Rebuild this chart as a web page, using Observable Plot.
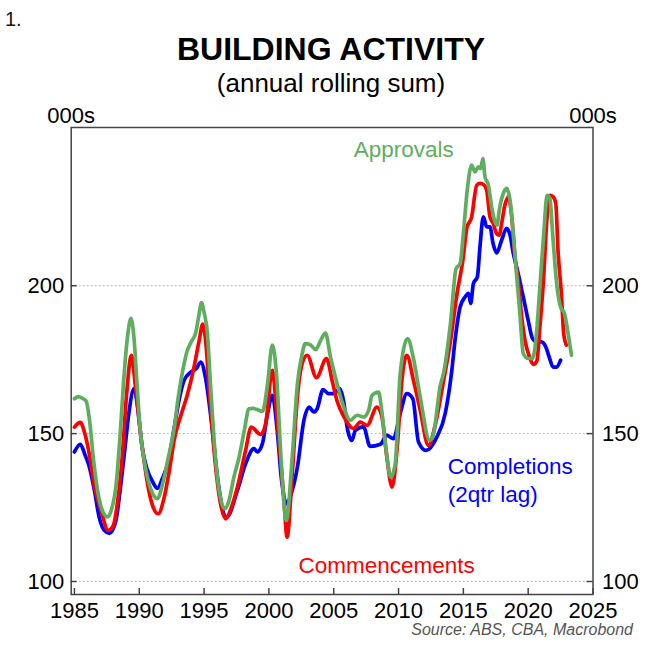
<!DOCTYPE html>
<html>
<head>
<meta charset="utf-8">
<script src="https://cdn.jsdelivr.net/npm/d3@7"></script>
<script src="https://cdn.jsdelivr.net/npm/@observablehq/plot@0.6"></script>
<style>
  html, body { margin: 0; padding: 0; background: #fff; }
  #wrap { position: relative; width: 649px; height: 652px; font-family: "Liberation Sans", Arial, sans-serif; overflow: hidden; }
  #wrap svg { position: absolute; left: 0; top: 0; }
  .t { position: absolute; line-height: 1; white-space: nowrap; }
</style>
</head>
<body>
<div id="wrap">
  <div class="t" style="left:5px; top:9px; font-size:20px; color:#2a0a0a;">1.</div>
  <div class="t" style="left:0; width:662px; text-align:center; top:33px; font-size:32px; font-weight:bold; color:#000;">BUILDING ACTIVITY</div>
  <div class="t" style="left:0; width:662px; text-align:center; top:70px; font-size:26px; color:#000;">(annual rolling sum)</div>
  <div class="t" style="right:16px; top:622px; font-size:16px; font-style:italic; color:#555;">Source: ABS, CBA, Macrobond</div>
</div>
<script>
// ---- Data ----
const approvalYears = [1985.0,1985.3,1985.6,1985.9,1986.15,1986.5,1986.9,1987.2,1987.57,1987.9,1988.2,1988.5,1988.8,1989.1,1989.36,1989.6,1989.85,1990.1,1990.5,1991.0,1991.4,1991.8,1992.2,1992.7,1993.0,1993.3,1993.7,1994.0,1994.35,1994.6,1994.8,1995.0,1995.26,1995.5,1995.77,1996.15,1996.6,1996.9,1997.3,1997.7,1998.1,1998.46,1998.8,1999.23,1999.5,1999.9,2000.26,2000.6,2000.9,2001.34,2001.8,2002.2,2002.57,2002.8,2003.2,2003.6,2004.0,2004.36,2004.75,2005.13,2005.7,2006.28,2006.8,2007.3,2007.7,2007.95,2008.46,2008.7,2009.05,2009.4,2009.75,2010.13,2010.7,2011.15,2011.67,2012.4,2012.7,2013.2,2013.5,2014.0,2014.44,2014.75,2015.0,2015.3,2015.64,2015.9,2016.15,2016.34,2016.5,2016.67,2016.93,2017.18,2017.44,2017.6,2017.77,2018.08,2018.34,2018.6,2018.85,2019.1,2019.36,2019.62,2020.0,2020.34,2020.64,2020.9,2021.2,2021.46,2021.67,2021.92,2022.23,2022.5,2022.8,2023.08,2023.34];
const approvalValues = [161.8,162.5,162,161,155,140,128,123.5,121.8,125,132,148,168,183,189,182,165,150,138,130,128,133,141,152,162,170,178,181,184,190,194.3,191,183.8,166,148,131,124.6,127,135.3,142,151,158.4,158.5,157.9,157.5,166.9,179.9,169.1,144.3,120.6,142,166.9,177,180.4,180,178.4,181.6,184,175.9,169.1,160,154.5,156.2,155.6,157.9,162.9,164,157.9,144.3,135.3,140,170.3,182.1,175.4,162.4,147.7,150,165.8,171,187,205.8,207.5,217.6,232.3,240.8,238.5,240.2,239.6,243,236.8,234,226.7,221.6,220.5,225.5,231.2,232.9,228.9,217.6,204.1,190.6,177.1,175.4,175.4,183.8,199.4,217.6,230.6,229.5,215.4,199.4,192.8,190.6,183.8,176.5];

const commenceYears = [1985.0,1985.45,1985.8,1986.15,1986.55,1987.05,1987.6,1988.0,1988.3,1988.7,1989.0,1989.4,1989.7,1990.13,1990.64,1991.0,1991.46,1991.9,1992.3,1992.7,1993.2,1993.7,1994.2,1994.6,1994.9,1995.15,1995.4,1995.77,1996.2,1996.67,1997.1,1997.57,1998.2,1998.64,1999.36,1999.75,2000.26,2000.7,2001.15,2001.4,2001.8,2002.2,2002.57,2002.95,2003.67,2004.44,2004.9,2005.26,2005.8,2006.54,2007.05,2007.57,2008.34,2008.72,2009.1,2009.5,2009.9,2010.26,2010.64,2011.15,2011.67,2012.3,2012.8,2013.46,2013.98,2014.5,2015.0,2015.26,2015.64,2016.03,2016.28,2016.6,2016.8,2017.05,2017.3,2017.57,2017.77,2017.95,2018.2,2018.46,2018.72,2018.98,2019.23,2019.5,2019.75,2020.1,2020.4,2020.67,2020.9,2021.18,2021.44,2021.67,2021.92,2022.13,2022.3,2022.56,2022.74,2022.95];
const commenceValues = [152.2,153.8,150,143,132,124,117.3,119,126,143,162,176.5,166,149,133,126,122.9,128,137,148,156,163,172,181,187,180,164.6,144.3,128,121.2,125,131.9,144.3,152.2,149.7,153.4,171.4,151,128.5,115,136.4,162.4,173.7,176.5,168.9,175.4,167.5,161,155.6,151.7,153.9,152.8,159,155.6,142,131.9,145.4,168,176.5,168,157.9,146,152.3,167.5,180.5,197,209.8,219.4,223.3,234,234.6,234,232.3,223.3,221.1,217.6,217.1,221,227.2,230,223.9,209.8,201.9,189.4,181.6,175.9,173.4,174.6,186,201.9,222.2,230.6,230.1,227.8,212,197.4,183.8,179.9];

const completionYears = [1985.0,1985.45,1985.8,1986.15,1986.54,1986.92,1987.3,1987.7,1988.2,1988.5,1988.85,1989.2,1989.6,1989.9,1990.2,1990.6,1991.0,1991.4,1991.8,1992.2,1992.7,1993.1,1993.46,1993.98,1994.4,1994.75,1995.1,1995.64,1996.03,1996.75,1997.57,1998.2,1998.85,1999.1,1999.5,1999.9,2000.26,2000.64,2000.95,2001.36,2001.67,2002.2,2002.7,2003.1,2003.46,2003.72,2004.18,2004.6,2005.05,2005.46,2005.8,2006.03,2006.4,2006.67,2007.3,2007.8,2008.6,2009.1,2009.6,2010.13,2010.64,2011.1,2011.54,2012.13,2012.95,2013.6,2014.1,2014.36,2014.75,2015.13,2015.4,2015.57,2015.77,2016.08,2016.28,2016.54,2016.8,2017.05,2017.3,2017.57,2017.95,2018.34,2018.6,2018.85,2019.23,2019.62,2020.0,2020.34,2020.64,2021.03,2021.36,2021.62,2021.92,2022.18,2022.5];
const completionValues = [143.8,146.4,143,138.7,130.8,121.5,117.3,116.3,120.6,130,143.2,157,165.2,158,146,138,134,131.5,135,140,152,162,168,170.8,172,174.2,169.1,151.1,135.3,121.8,130.8,139.8,144.9,143.8,146.6,156.8,162.9,151.1,135.3,126.3,129,138.7,154.5,159,157.3,158.4,164.9,163.5,163.5,165.2,160,152.3,147.7,151.1,152.3,145.7,146.4,149.4,148.3,156.8,163.5,161.8,147.2,144.3,148.8,156.8,171,181.6,192.8,196.2,197.4,194,200.7,203,213.1,223.3,219.9,219.9,214.1,211.1,215.4,219.4,217.1,211,204.1,196.2,188.3,182.1,181,181,179.3,175.9,172.5,172.5,174.8];

const xTicks = [1985, 1990, 1995, 2000, 2005, 2010, 2015, 2020, 2025];
const yTicks = [100, 150, 200];

const seriesNames = ["Completions (2qtr lag)", "Commencements", "Approvals"];
const seriesColors = ["#0000ff", "#ff0000", "#5fae5f"];

const labelTexts  = ["Approvals", "Completions", "(2qtr lag)", "Commencements"];
const labelYears  = [2010.4, 2013.79, 2013.79, 2009.08];
const labelValues = [243.4, 136.5, 126.8, 103.0];
const labelColors = ["#5fae5f", "#0000ff", "#0000ff", "#ff0000"];
const labelAnchors = ["middle", "start", "start", "middle"];

// ---- Build tables ----
const toRows = (name, xs, ys) => xs.map((x, i) => ({series: name, year: x, value: ys[i]}));
const completions = toRows(seriesNames[0], completionYears, completionValues);
const commencements = toRows(seriesNames[1], commenceYears, commenceValues);
const approvals = toRows(seriesNames[2], approvalYears, approvalValues);
const labels = labelTexts.map((t, i) => ({text: t, year: labelYears[i], value: labelValues[i], color: labelColors[i], anchor: labelAnchors[i]}));

const W = 649, H = 652;
const mL = 70.7, mR = 56.5, mT = 127, mB = 58;
const xDomain = [1984.75, 2025];
const yDomain = [95.6, 253.5];
const pxPerYear = (W - mL - mR) / (xDomain[1] - xDomain[0]);
const pxPerUnit = (H - mT - mB) / (yDomain[1] - yDomain[0]);
const tickLen = 6;
const frameColor = "#444";

const lineOpts = (color) => ({x: "year", y: "value", stroke: color, strokeWidth: 3.7, strokeLinejoin: "round", strokeLinecap: "round", curve: "monotone-x"});

const chart = Plot.plot({
  width: W, height: H,
  marginLeft: mL, marginRight: mR, marginTop: mT, marginBottom: mB,
  style: {fontFamily: "'Liberation Sans', Arial, sans-serif", fontSize: "22px", color: "#000", background: "transparent", overflow: "visible"},
  x: {domain: xDomain, type: "linear", label: null},
  y: {domain: yDomain, type: "linear", label: null},
  marks: [
    Plot.gridY(yTicks, {stroke: "#b8b8b8", strokeOpacity: 1, strokeDasharray: "2,2", strokeWidth: 1}),
    Plot.line(completions, lineOpts(seriesColors[0])),
    Plot.line(commencements, lineOpts(seriesColors[1])),
    Plot.line(approvals, lineOpts(seriesColors[2])),
    Plot.frame({stroke: frameColor, strokeWidth: 1.5}),
    Plot.ruleX(xTicks, {x: d => d, y1: yDomain[0], y2: yDomain[0] + tickLen / pxPerUnit, stroke: frameColor, strokeWidth: 1.5}),
    Plot.ruleY(yTicks, {y: d => d, x1: xDomain[0], x2: xDomain[0] + tickLen / pxPerYear, stroke: frameColor, strokeWidth: 1.5}),
    Plot.ruleY(yTicks, {y: d => d, x1: xDomain[1] - tickLen / pxPerYear, x2: xDomain[1], stroke: frameColor, strokeWidth: 1.5}),
    Plot.axisX({ticks: xTicks, tickFormat: d => String(d), tickSize: 0, tickPadding: 8, fontSize: 22, label: null}),
    Plot.axisY({anchor: "left", ticks: yTicks, tickSize: 0, tickPadding: 7, fontSize: 22, label: null}),
    Plot.axisY({anchor: "right", ticks: yTicks, tickSize: 0, tickPadding: 9, fontSize: 22, label: null}),
    Plot.text(["000s"], {frameAnchor: "top-left", text: d => d, textAnchor: "middle", lineAnchor: "bottom", dy: -5, fontSize: 22, fill: "#000"}),
    Plot.text(["000s"], {frameAnchor: "top-right", text: d => d, textAnchor: "middle", lineAnchor: "bottom", dy: -5, fontSize: 22, fill: "#000"}),
    Plot.text(labels.filter(d => d.anchor === "middle"), {x: "year", y: "value", text: "text", fill: "color", textAnchor: "middle", lineAnchor: "bottom", fontSize: 22.5}),
    Plot.text(labels.filter(d => d.anchor === "start"), {x: "year", y: "value", text: "text", fill: "color", textAnchor: "start", lineAnchor: "bottom", fontSize: 22.5})
  ]
});
document.getElementById("wrap").prepend(chart);
</script>
</body>
</html>
